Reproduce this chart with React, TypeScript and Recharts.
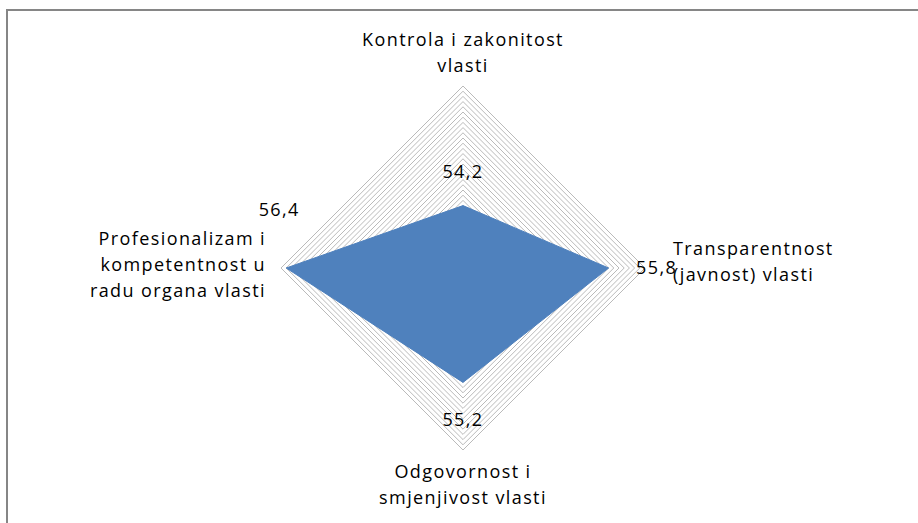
import React from 'react';
import { RadarChart, Radar, PolarGrid, PolarAngleAxis, PolarRadiusAxis, LabelList } from 'recharts';

const categories = [
    'Kontrola i zakonitost vlasti',
    'Transparentnost (javnost) vlasti',
    'Odgovornost i smjenjivost vlasti',
    'Profesionalizam i kompetentnost u radu organa vlasti',
];
const categoryLines = [
    ['Kontrola i zakonitost', 'vlasti'],
    ['Transparentnost', '(javnost) vlasti'],
    ['Odgovornost i', 'smjenjivost vlasti'],
    ['Profesionalizam i', 'kompetentnost u', 'radu organa vlasti'],
];
const values = [54.2, 55.8, 55.2, 56.4];
// recharts rounds the radius domain up to 57, the grid stops at 56.5
const radiusDomain = [53, 57];
// minor gridlines every 0.1
const gridTicks = [
    53, 53.1, 53.2, 53.3, 53.4, 53.5, 53.6, 53.7, 53.8, 53.9,
    54, 54.1, 54.2, 54.3, 54.4, 54.5, 54.6, 54.7, 54.8, 54.9,
    55, 55.1, 55.2, 55.3, 55.4, 55.5, 55.6, 55.7, 55.8, 55.9,
    56, 56.1, 56.2, 56.3, 56.4, 56.5,
];

const data = categories.map((name, i) => ({ name, value: values[i] }));

const FONT = '"Open Sans", sans-serif';
const CX = 463;
const CY = 268;
const R = 208; // 56.5 lands at ~182px

const CategoryTick = (props: any) => {
    const { x, y, index } = props;
    const lines = categoryLines[index] || [];
    const lh = 26;
    let anchor = 'middle';
    let tx = x;
    let firstY = y - 6;
    if (index === 1) {
        anchor = 'start';
        tx = x - 6;
        firstY = y - 13;
    } else if (index === 2) {
        firstY = y - 6;
    } else if (index === 3) {
        anchor = 'end';
        tx = x + 19;
        firstY = y - 23;
    }
    return (
        <text x={tx} y={firstY} textAnchor={anchor} fontSize={18} letterSpacing={1.4} fontFamily={FONT} fill="#000">
            {lines.map((l, i) => (
                <tspan key={i} x={tx} dy={i === 0 ? 0 : lh}>{l}</tspan>
            ))}
        </text>
    );
};

const ValueLabel = (props: any) => {
    const { x, y, value, index } = props;
    const offsets = [[0, -28], [48, 6], [0, 44], [-7, -52]];
    const [dx, dy] = offsets[index] || [0, 0];
    return (
        <text x={x + dx} y={y + dy} textAnchor="middle" fontSize={18} letterSpacing={1.4} fontFamily={FONT} fill="#000">
            {String(value).replace('.', ',')}
        </text>
    );
};

export default function App() {
    return (
        <div style={{ position: 'absolute', left: 0, top: 0, width: 918, height: 523, background: '#fff' }}>
            <div style={{ position: 'absolute', left: 6, top: 9, right: 0, bottom: 0, borderLeft: '2px solid #868686', borderTop: '2px solid #868686' }} />
            <RadarChart width={918} height={523} cx={CX} cy={CY} outerRadius={R} data={data} style={{ position: 'absolute', left: 0, top: 0 }}>
                <PolarGrid stroke="#a8a8a8" strokeWidth={0.8} radialLines={false} />
                <PolarAngleAxis dataKey="name" tick={<CategoryTick />} tickLine={false} axisLine={false} />
                <PolarRadiusAxis type="number" domain={radiusDomain} ticks={gridTicks} tick={false} axisLine={false} />
                <Radar dataKey="value" fill="#4f81bd" fillOpacity={1} stroke="#4f81bd" isAnimationActive={false}>
                    <LabelList dataKey="value" content={<ValueLabel />} />
                </Radar>
            </RadarChart>
        </div>
    );
}
